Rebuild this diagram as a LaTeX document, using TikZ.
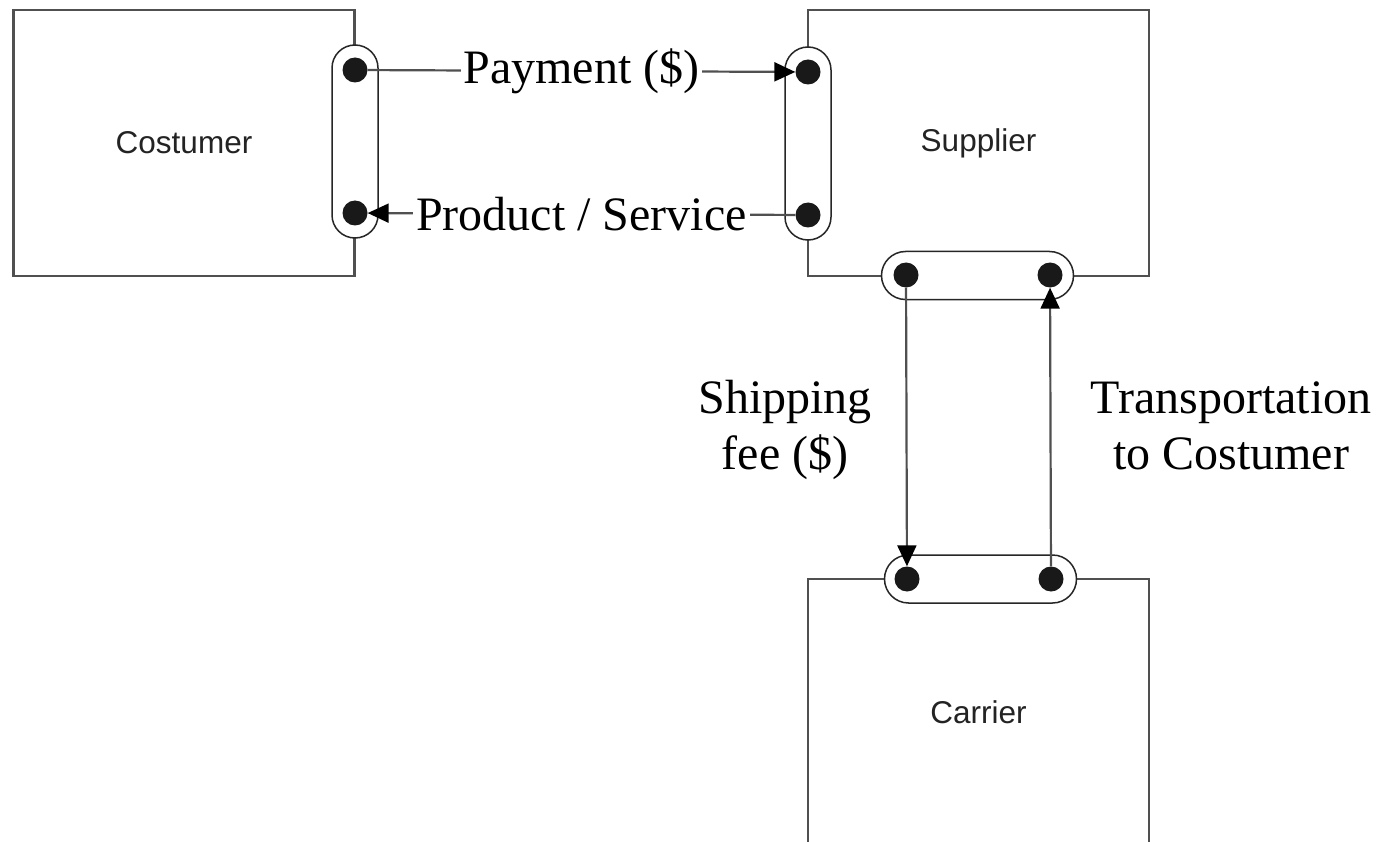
\documentclass[tikz,border=0pt]{standalone}
\usepackage{fontspec}
\setmainfont{Liberation Serif}
\newfontfamily\sansf{Liberation Sans}
\usetikzlibrary{arrows.meta}
\definecolor{edgegray}{RGB}{80,80,80}
\definecolor{txtgray}{RGB}{35,35,35}
\begin{document}
\begin{tikzpicture}[x=1pt,y=-1pt,
  actor/.style={draw=edgegray, line width=2.2pt, fill=white, minimum width=341pt, minimum height=266pt, inner sep=0pt, font=\sansf\fontsize{31.5}{36}\selectfont, text=txtgray},
  vpill/.style={draw=black!85, line width=1.5pt, fill=white, rounded corners=23pt, minimum width=46pt, minimum height=193pt, inner sep=0pt},
  hpill/.style={draw=black!85, line width=1.5pt, fill=white, rounded corners=24pt, minimum width=192pt, minimum height=48pt, inner sep=0pt},
  port/.style={circle, fill=black!90, minimum size=25pt, inner sep=0pt},
  flow/.style={draw=edgegray, line width=2.2pt, -{Triangle[length=21pt,width=19pt,color=black]}},
  lbl/.style={font=\fontsize{48}{54}\selectfont, fill=white, inner sep=3pt},
  freelbl/.style={font=\fontsize{48}{56}\selectfont, align=center, inner sep=0pt}
]
\useasboundingbox (0,0) rectangle (1378,842);
\fill[white] (0,0) rectangle (1378,842);

% actors
\node[actor] (cust) at (184,143) {Costumer};
\node[actor] (supp) at (978.5,143) {Supplier};
\node[actor] (carr) at (978.5,712) {Carrier};

% interfaces
\node[vpill] (pl) at (355,141.5) {};
\node[vpill] (pr) at (808,143.5) {};
\node[hpill] (psb) at (977.5,275.5) {};
\node[hpill] (pct) at (980.5,579) {};

% ports
\node[port] (cL1) at (355,70) {};
\node[port] (cL2) at (355,213) {};
\node[port] (sR1) at (808,72) {};
\node[port] (sR2) at (808,215) {};
\node[port] (sB1) at (906,275) {};
\node[port] (sB2) at (1050,275) {};
\node[port] (kT1) at (907,579) {};
\node[port] (kT2) at (1051,579) {};

% flows
\draw[flow] (cL1) -- node[lbl] {Payment (\$)} (sR1);
\draw[flow] (sR2) -- node[lbl] {Product / Service} (cL2);
\draw[flow] (sB1) -- (kT1);
\draw[flow] (kT2) -- (sB2);

\node[freelbl] (shiplbl) at (785,430) {Shipping\\fee (\$)};
\node[freelbl] (translbl) at (1231,426) {Transportation\\to Costumer};
\end{tikzpicture}
\end{document}
